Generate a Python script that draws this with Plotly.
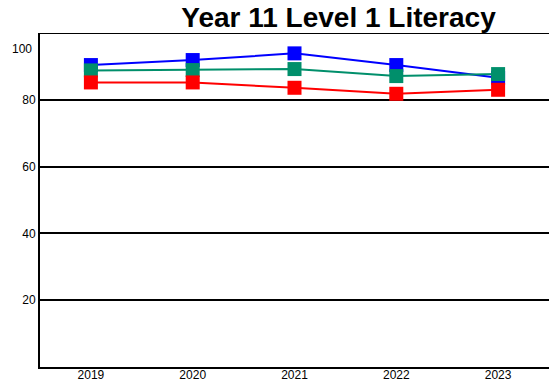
import plotly.graph_objects as go

years = ["2019", "2020", "2021", "2022", "2023"]
series_blue = [90.4, 91.9, 93.9, 90.4, 86.6]
series_green = [88.8, 88.9, 89.2, 87.1, 87.7]
series_red = [85.2, 85.2, 83.6, 81.8, 83.0]
y_ticks = [20, 40, 60, 80]

colors = {"blue": "#0000ff", "green": "#008f6b", "red": "#ff0000"}

fig = go.Figure()
for name, vals in [("blue", series_blue), ("green", series_green), ("red", series_red)]:
    fig.add_trace(go.Scatter(
        x=years, y=vals, mode="lines+markers", name=name,
        line=dict(color=colors[name], width=2),
        marker=dict(symbol="square", size=14, color=colors[name], line=dict(width=0)),
        cliponaxis=False,
    ))

fig.update_layout(
    width=549, height=383,
    margin=dict(l=40, r=0, t=33, b=16),
    paper_bgcolor="white", plot_bgcolor="white",
    showlegend=False,
    font=dict(family="Liberation Sans, Arial", size=12, color="black"),
    title=dict(
        text="<b>Year 11 Level 1 Literacy</b>",
        font=dict(family="Liberation Sans, Arial", size=28, color="black"),
        x=338.5 / 549, xanchor="center", xref="container",
        y=1 - 17 / 383, yanchor="middle", yref="container",
    ),
    xaxis=dict(
        type="category", range=[-0.5, 4.5],
        showgrid=False, showline=True, linecolor="black", linewidth=2,
        ticks="", ticklen=0, automargin=False, tickfont=dict(size=12),
        ticklabelstandoff=-4,
    ),
    yaxis=dict(
        range=[0, 100], tickvals=y_ticks, ticktext=[str(v) for v in y_ticks],
        showgrid=True, gridcolor="black", gridwidth=2,
        showline=True, linecolor="black", linewidth=2,
        zeroline=False, ticks="", automargin=False, tickfont=dict(size=12),
    ),
)

# top frame line at 100 and its label
fig.add_shape(type="line", xref="paper", yref="y", x0=0, x1=1, y0=100, y1=100,
              line=dict(color="black", width=2))
fig.add_annotation(text="100", xref="paper", yref="y", x=0, y=100,
                   xanchor="right", yanchor="middle", xshift=-6, yshift=-16,
                   showarrow=False, font=dict(size=12, color="black"))

fig.write_html("out.html")
